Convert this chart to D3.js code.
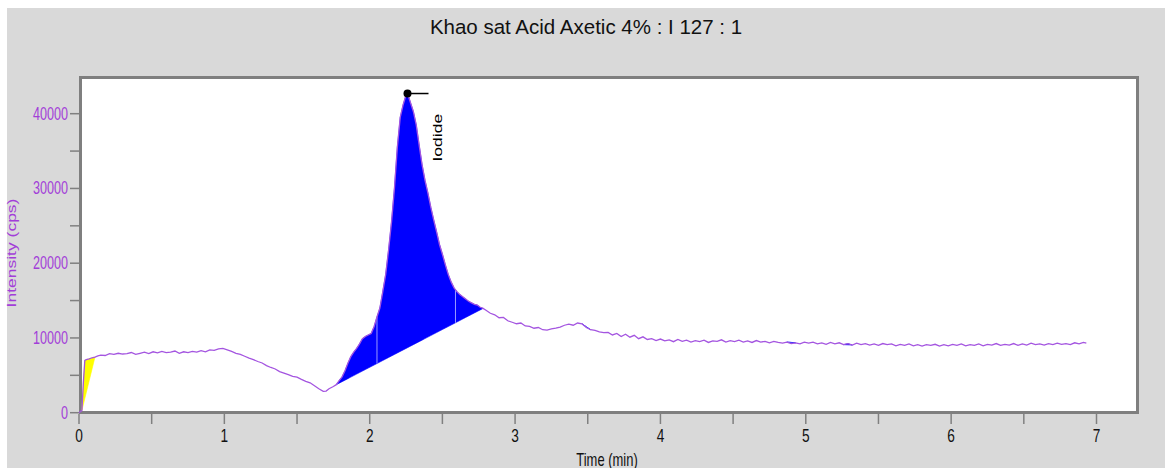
<!DOCTYPE html>
<html><head><meta charset="utf-8">
<script src="https://cdn.jsdelivr.net/npm/d3@7"></script>
<style>html,body{margin:0;padding:0;background:#fff;}svg{display:block;font-family:"Liberation Sans",Arial,sans-serif;}</style>
</head><body>
<svg id="c" width="1165" height="468"></svg>
<script>
const title = "Khao sat Acid Axetic 4% : I 127 : 1";
const xTitle = "Time (min)";
const yTitle = "Intensity (cps)";
const xTicks = [0,1,2,3,4,5,6,7];
const xMinor = [0.5,1.5,2.5,3.5,4.5,5.5,6.5];
const yTicks = [0,10000,20000,30000,40000];
const yMinor = [5000,15000,25000,35000];

const time = [0,0.02,0.03,0.04,0.05,0.07,0.09,0.11,0.13,0.15,0.18,0.21,0.24,0.27,0.30,0.33,0.36,0.39,0.42,0.45,0.48,0.51,0.54,0.57,0.60,0.63,0.66,0.69,0.72,0.75,0.78,0.81,0.84,0.87,0.90,0.93,0.96,0.99,1.02,1.05,1.08,1.11,1.14,1.17,1.20,1.23,1.26,1.29,1.32,1.35,1.38,1.41,1.44,1.47,1.50,1.53,1.56,1.59,1.62,1.65,1.68,1.70,1.72,1.75,1.77,1.79,1.81,1.83,1.85,1.87,1.89,1.91,1.93,1.95,1.97,1.99,2.01,2.03,2.05,2.07,2.09,2.11,2.13,2.15,2.17,2.19,2.21,2.23,2.25,2.26,2.28,2.30,2.32,2.34,2.36,2.38,2.40,2.42,2.44,2.46,2.48,2.50,2.52,2.54,2.56,2.58,2.60,2.62,2.64,2.66,2.68,2.70,2.72,2.74,2.76,2.78,2.80,2.83,2.86,2.89,2.92,2.95,2.98,3.01,3.04,3.07,3.10,3.13,3.16,3.19,3.22,3.25,3.28,3.31,3.34,3.37,3.40,3.43,3.46,3.49,3.52,3.55,3.58,3.61,3.64,3.67,3.70,3.73,3.76,3.79,3.82,3.85,3.88,3.91,3.94,3.97,
  4.00,4.03,4.06,4.09,4.12,4.15,4.18,4.21,4.24,4.27,4.30,4.33,4.36,4.39,4.42,4.45,4.48,4.51,4.54,4.57,4.60,4.63,4.66,4.69,4.72,4.75,4.78,4.81,4.84,4.87,4.90,4.93,4.96,4.99,5.02,5.05,5.08,5.11,5.14,5.17,5.20,5.23,5.26,5.29,5.32,5.35,5.38,5.41,5.44,5.47,5.50,5.53,5.56,5.59,5.62,5.65,5.68,5.71,5.74,5.77,5.80,5.83,5.86,5.89,5.92,5.95,5.98,6.01,6.04,6.07,6.10,6.13,6.16,6.19,6.22,6.25,6.28,6.31,6.34,6.37,6.40,6.43,6.46,6.49,6.52,6.55,6.58,6.61,6.64,6.67,6.70,6.73,6.76,6.79,6.82,6.85,6.88,6.91,6.93];
const intensity = [0,300,4000,7000,7100,7200,7350,7450,7600,7700,7650,7900,7800,7950,7850,7900,8050,7800,7950,8100,7900,8150,8000,8200,8050,8100,8250,7950,8150,8050,8200,8100,8300,8150,8400,8350,8550,8600,8400,8200,7950,7800,7550,7300,7100,6850,6650,6300,6050,5850,5500,5300,5100,4850,4750,4450,4200,4000,3600,3200,2850,2900,3200,3500,3750,4300,4800,5600,6600,7500,8100,8600,9200,9900,10200,10400,10600,11500,12800,14000,16200,18500,21800,25500,30000,35500,39500,41200,42500,42700,41500,40300,38500,35800,33200,31100,29400,27500,25800,24200,22500,21200,19800,18500,17500,16700,16200,15800,15500,15200,14900,14700,14500,14400,14100,13950,13700,13300,13100,12700,12750,12300,12100,11900,12000,11600,11550,11300,11400,11100,11050,11200,11300,11450,11700,11850,11700,12000,11900,11400,11100,11000,10800,10700,10750,10400,10600,10200,10500,10100,10350,9900,10150,9800,9900,9650,
  9850,9600,9750,9500,9800,9550,9700,9450,9650,9500,9700,9400,9600,9550,9750,9450,9650,9500,9700,9450,9600,9400,9650,9450,9550,9350,9550,9400,9300,9450,9250,9350,9200,9450,9300,9450,9200,9350,9150,9400,9200,9350,9100,9250,9050,9300,9100,9250,9050,9200,9000,9250,9100,9200,8950,9150,9000,9200,8950,9100,8900,9100,9000,9150,8900,9100,8950,9150,9000,9200,8950,9100,9000,9200,8950,9150,9050,9250,9000,9150,9050,9250,9000,9200,9050,9300,9100,9200,9050,9250,9100,9300,9150,9250,9100,9350,9200,9400,9300];

const peakStart = [0.02, 1.77, 3.46, 4.87, 5.26];
const peakEnd   = [0.11, 2.78, 3.52, 4.93, 5.32];
const peakColor = ["#ffff00", "#0000ff", "#0000ff", "#0000ff", "#0000ff"];
const peakName = "Iodide";
const sliceTimes = [2.05, 2.59];

const data = time.map((t,i)=>({t, v: intensity[i]}));
const svg = d3.select("#c");

// background panel
svg.append("rect").attr("x",7).attr("y",8).attr("width",1158).attr("height",460).attr("fill","#d9d9d9");

const x = d3.scaleLinear().domain([0,7]).range([79,1096.5]);
const y = d3.scaleLinear().domain([0,40000]).range([412.7,113.7]);

const frame = {l:79, r:1139, t:76, b:414};
svg.append("rect").attr("x",frame.l+1.5).attr("y",frame.t+1.5)
  .attr("width",frame.r-frame.l-3).attr("height",frame.b-frame.t-3)
  .attr("fill","#fff").attr("stroke","#7f7f7f").attr("stroke-width",3);

const purple = "#a23ed8";
const S = 0.72;

// title
svg.append("text").attr("x",586).attr("y",34).attr("text-anchor","middle")
  .attr("font-size",20.5).attr("fill","#111").text(title);

// y axis ticks
const ty = svg.append("g");
yTicks.concat(yMinor).forEach(v=>{
  ty.append("line").attr("x1",70).attr("x2",frame.l).attr("y1",y(v)).attr("y2",y(v))
    .attr("stroke","#808080").attr("stroke-width",1.5);
});
yTicks.forEach(v=>{
  ty.append("text").attr("transform",`translate(68,${y(v)+6}) scale(${S},1)`)
    .attr("text-anchor","end").attr("font-size",17.5).attr("fill",purple).text(v);
});
svg.append("text").attr("transform",`translate(16,253) rotate(-90) scale(1,${S})`)
  .attr("text-anchor","middle").attr("font-size",17.5).attr("fill",purple).text(yTitle);

// x axis ticks
const tx = svg.append("g");
xTicks.concat(xMinor).forEach(t=>{
  tx.append("line").attr("x1",x(t)).attr("x2",x(t)).attr("y1",frame.b).attr("y2",424)
    .attr("stroke","#808080").attr("stroke-width",1.5);
});
xTicks.forEach(t=>{
  tx.append("text").attr("transform",`translate(${x(t)},442) scale(${S},1)`)
    .attr("text-anchor","middle").attr("font-size",19).attr("fill","#111").text(t);
});
svg.append("text").attr("transform",`translate(607,466) scale(${S},1)`)
  .attr("text-anchor","middle").attr("font-size",18).attr("fill","#111").text(xTitle);

// peak fills
function valAt(t){
  const b = d3.bisector(d=>d.t).left(data, t);
  if (b<=0) return data[0].v;
  if (b>=data.length) return data[data.length-1].v;
  const a = data[b-1], c = data[b];
  return a.v + (c.v-a.v)*(t-a.t)/(c.t-a.t);
}
peakStart.forEach((s,i)=>{
  const e = peakEnd[i];
  const vs = valAt(s), ve = valAt(e);
  const base = t => vs + (ve-vs)*(t-s)/(e-s);
  const pts = [{t:s,v:vs}].concat(data.filter(d=>d.t>s && d.t<e)).concat([{t:e,v:ve}]);
  const area = d3.area().x(d=>x(d.t)).y0(d=>y(base(d.t))).y1(d=>y(Math.max(d.v, base(d.t))));
  svg.append("path").attr("d",area(pts)).attr("fill",peakColor[i]).attr("stroke",peakColor[i]).attr("stroke-width",0.6);
  if (i===1){
    sliceTimes.forEach(st=>{
      svg.append("line").attr("x1",x(st)).attr("x2",x(st)).attr("y1",y(base(st))).attr("y2",y(valAt(st)))
        .attr("stroke","#9a9aff").attr("stroke-width",1);
    });
  }
});

// trace
const line = d3.line().x(d=>x(d.t)).y(d=>y(d.v));
svg.append("path").attr("d",line(data)).attr("fill","none").attr("stroke","#a455e0").attr("stroke-width",1.3);

// peak marker
const pk = data.reduce((a,b)=>b.v>a.v?b:a);
svg.append("line").attr("x1",x(pk.t)).attr("x2",x(pk.t)+21).attr("y1",y(pk.v)).attr("y2",y(pk.v))
  .attr("stroke","#000").attr("stroke-width",1.5);
svg.append("circle").attr("cx",x(pk.t)).attr("cy",y(pk.v)).attr("r",4).attr("fill","#000");
svg.append("text").attr("transform",`translate(${x(pk.t)+34},${y(pk.v)+68}) rotate(-90) scale(1,${S})`)
  .attr("text-anchor","start").attr("font-size",17.5).attr("fill","#000").text(peakName);
</script>
</body></html>
